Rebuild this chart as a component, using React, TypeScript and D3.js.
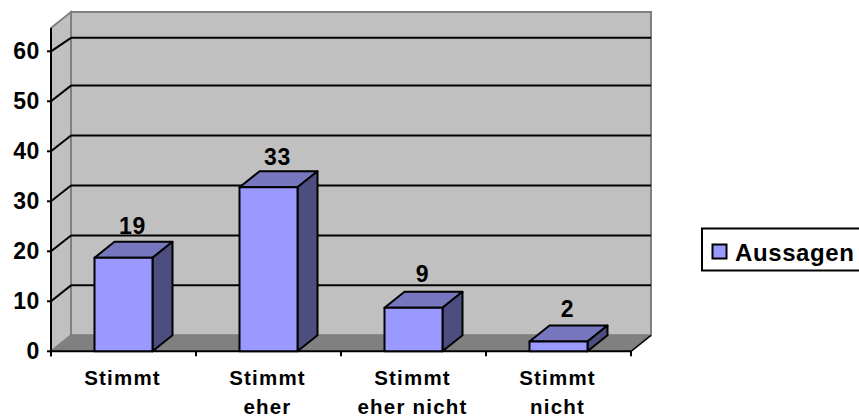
import React from "react";
import * as d3 from "d3";

const categories = ["Stimmt", "Stimmt eher", "Stimmt eher nicht", "Stimmt nicht"];
const categoryLines = [["Stimmt"], ["Stimmt", "eher"], ["Stimmt", "eher nicht"], ["Stimmt", "nicht"]];
const dataValues = [19, 33, 9, 2];
const barHeights = [18.7, 32.8, 8.7, 1.95];
const yTicks = [0, 10, 20, 30, 40, 50, 60];
const legendLabel = "Aussagen";

const W = 859, H = 417;
const FONT = "'Liberation Sans', Arial, sans-serif";
const DX = 20, DY = -16;
const x = d3.scaleBand<string>().domain(categories).range([51, 631]).paddingInner(0.6).paddingOuter(0.3);
const y = d3.scaleLinear().domain([0, 60]).range([351.3, 51.3]);
const yBack = d3.scaleLinear().domain([0, 50, 60]).range([335.3, 85.6, 37.8]);
const yLabel = d3.scaleLinear().domain([0, 60]).range([326.5, 33]);
const TOP = 28;
const poly = (pts: [number, number][]) => pts.map(p => p.join(",")).join(" ");

export default function App() {
  const x0 = 51, x1 = 631, y0 = y(0);
  const bw = x.bandwidth();
  const boundaries = d3.range(categories.length + 1).map(i => x0 + (i * (x1 - x0)) / categories.length);
  return (
    <svg width={W} height={H} style={{ position: "absolute", left: 0, top: 0, display: "block" }} fontFamily={FONT} fontWeight="bold">
      <rect width={W} height={H} fill="#fff" />
      {/* back wall */}
      <polygon points={poly([[x0 + DX, TOP + DY], [x1 + DX, TOP + DY], [x1 + DX, y0 + DY], [x0 + DX, y0 + DY]])} fill="#C0C0C0" stroke="#808080" strokeWidth={2} />
      {/* side wall */}
      <polygon points={poly([[x0, TOP], [x0 + DX, TOP + DY], [x0 + DX, y0 + DY], [x0, y0]])} fill="#C0C0C0" stroke="#808080" strokeWidth={2} />
      {/* floor */}
      <polygon points={poly([[x0, y0], [x0 + DX, y0 + DY], [x1 + DX, y0 + DY], [x1, y0]])} fill="#808080" stroke="#808080" strokeWidth={1} />
      {/* gridlines */}
      {yTicks.slice(1).map(t => (
        <g key={t} stroke="#000" strokeWidth={2} fill="none">
          <polyline points={poly([[x0, y(t)], [x0 + DX, yBack(t)]])} />
          <line x1={x0 + DX} x2={x1 + DX} y1={yBack(t)} y2={yBack(t)} />
        </g>
      ))}
      {/* floor edge right */}
      <line x1={x1} y1={y0} x2={x1 + DX} y2={y0 + DY} stroke="#000" strokeWidth={1.5} />
      {/* axes */}
      <line x1={x0} x2={x0} y1={TOP} y2={y0 + 5} stroke="#000" strokeWidth={2} />
      <line x1={x0} x2={x1} y1={y0} y2={y0} stroke="#000" strokeWidth={2} />
      {yTicks.map(t => (
        <g key={t}>
          <line x1={x0 - 4} x2={x0} y1={y(t)} y2={y(t)} stroke="#000" strokeWidth={2} />
          <text x={40} y={y(t) + 8} textAnchor="end" fontSize={23} letterSpacing={0.6}>{t}</text>
        </g>
      ))}
      {boundaries.map(b => (
        <line key={b} x1={b} x2={b} y1={y0} y2={y0 + 5} stroke="#000" strokeWidth={2} />
      ))}
      {/* bars */}
      {categories.map((c, i) => {
        const l = x(c)!, r = l + bw, t = y(barHeights[i]);
        return (
          <g key={c} stroke="#000" strokeWidth={2} strokeLinejoin="round">
            <polygon points={poly([[l, t], [l + DX, t + DY], [r + DX, t + DY], [r, t]])} fill="#7777BF" />
            <polygon points={poly([[r, t], [r + DX, t + DY], [r + DX, y0 + DY], [r, y0]])} fill="#4D4D80" />
            <rect x={l} y={t} width={bw} height={y0 - t} fill="#9999FF" />
            <text x={l + bw / 2 + 9} y={yLabel(dataValues[i])} textAnchor="middle" fontSize={23} letterSpacing={0.6} stroke="none" fill="#000">{dataValues[i]}</text>
          </g>
        );
      })}
      {/* category labels */}
      {categories.map((c, i) => (
        <g key={c}>
          {categoryLines[i].map((s, j) => (
            <text key={j} x={x(c)! + bw / 2 - 1} y={385 + j * 29} textAnchor="middle" fontSize={20.5} letterSpacing={1.2}>{s}</text>
          ))}
        </g>
      ))}
      {/* legend */}
      <rect x={702} y={228.5} width={170} height={42} fill="#fff" stroke="#000" strokeWidth={2} />
      <rect x={712.5} y={244.5} width={14} height={14} fill="#9999FF" stroke="#000" strokeWidth={2} />
      <text x={735} y={260.5} fontSize={24} letterSpacing={0.6}>{legendLabel}</text>
    </svg>
  );
}
